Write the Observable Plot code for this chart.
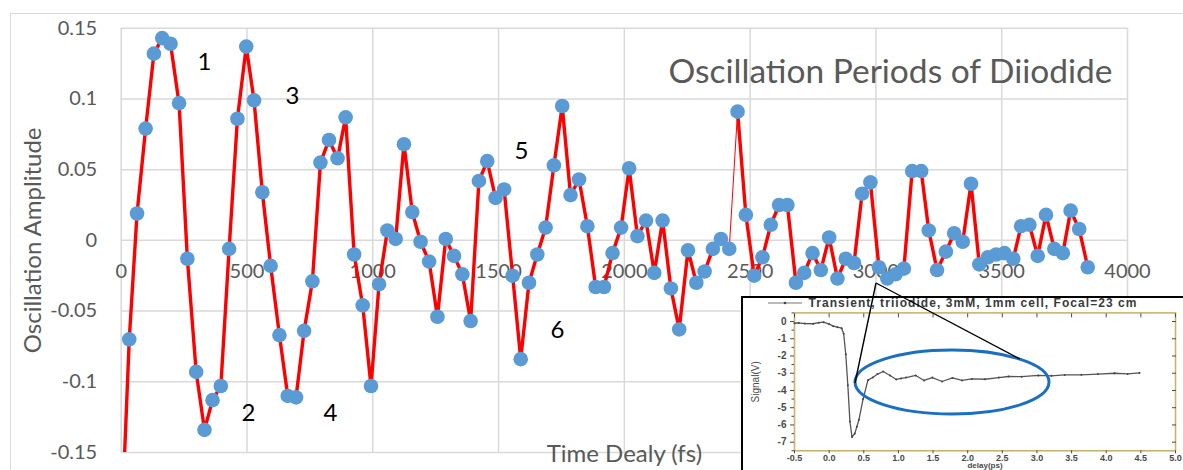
<!DOCTYPE html>
<html><head><meta charset="utf-8">
<script src="https://cdn.jsdelivr.net/npm/d3@7"></script>
<script src="https://cdn.jsdelivr.net/npm/@observablehq/plot@0.6"></script>
<style>
html,body{margin:0;padding:0;background:#fff;overflow:hidden;width:1183px;height:470px;}
#wrap{position:relative;width:1183px;height:470px;overflow:hidden;background:#fff;}
#wrap svg{position:absolute;}
#border{position:absolute;left:10px;top:12.5px;width:1250px;height:520px;border-left:1.5px solid #d9d9d9;border-top:1.5px solid #d9d9d9;pointer-events:none;}
#insetBox{position:absolute;left:741px;top:296px;width:480px;height:220px;background:#fff;border-left:2.5px solid #000;border-top:2.5px solid #000;}
</style></head>
<body><div id="wrap"></div>
<script>
// ---- main chart data ----
const times = [0, 32, 63, 97, 130, 163, 196, 230, 263, 298,
  331, 363, 396, 429, 462, 497, 528, 561, 594, 629,
  662, 695, 727, 760, 792, 826, 860, 892, 926, 960,
  993, 1025, 1058, 1091, 1124, 1157, 1190, 1224, 1257, 1290,
  1323, 1356, 1389, 1422, 1455, 1488, 1522, 1556, 1588, 1621,
  1654, 1687, 1720, 1753, 1786, 1820, 1853, 1886, 1919, 1953,
  1987, 2019, 2052, 2086, 2119, 2152, 2185, 2218, 2253, 2286,
  2319, 2352, 2384, 2417, 2450, 2483, 2516, 2549, 2582, 2615,
  2648, 2682, 2715, 2748, 2781, 2814, 2847, 2880, 2913, 2945,
  2978, 3012, 3045, 3078, 3111, 3144, 3180, 3210, 3243, 3278,
  3311, 3345, 3378, 3411, 3445, 3478, 3511, 3546, 3577, 3610,
  3643, 3676, 3709, 3743, 3774, 3808, 3842];
const amplitude = [-0.21, -0.070, 0.019, 0.079, 0.132, 0.143, 0.139, 0.097, -0.013, -0.093,
  -0.134, -0.113, -0.103, -0.006, 0.086, 0.137, 0.099, 0.034, -0.018, -0.067,
  -0.110, -0.111, -0.064, -0.029, 0.055, 0.071, 0.058, 0.087, -0.010, -0.046,
  -0.103, -0.031, 0.007, 0.001, 0.068, 0.020, -0.001, -0.015, -0.054, 0.001,
  -0.011, -0.024, -0.057, 0.042, 0.056, 0.030, 0.036, -0.025, -0.084, -0.030,
  -0.010, 0.009, 0.053, 0.095, 0.032, 0.043, 0.010, -0.033, -0.033, -0.009,
  0.009, 0.051, 0.003, 0.014, -0.023, 0.014, -0.034, -0.063, -0.007, -0.030,
  -0.022, -0.006, 0.001, -0.006, 0.091, 0.018, -0.025, -0.012, 0.011, 0.025,
  0.025, -0.030, -0.023, -0.009, -0.021, 0.002, -0.027, -0.013, -0.016, 0.033,
  0.041, -0.019, -0.027, -0.024, -0.020, 0.049, 0.049, 0.007, -0.021, -0.008,
  0.005, -0.001, 0.040, -0.017, -0.012, -0.010, -0.009, -0.013, 0.010, 0.011,
  -0.011, 0.018, -0.006, -0.009, 0.021, 0.008, -0.019];
const thinFrom = 2417, thinTo = 2450; // segment drawn with a thin line

const xTicks = [0, 500, 1000, 1500, 2000, 2500, 3000, 3500, 4000];
const xTickLabels = ["0", "500", "1000", "1500", "2000", "2500", "3000", "3500", "4000"];
const yTicks = [-0.15, -0.1, -0.05, 0, 0.05, 0.1, 0.15];
const yTickLabels = ["-0.15", "-0.1", "-0.05", "0", "0.05", "0.1", "0.15"];

const peakLabels = ["1", "2", "3", "4", "5", "6"];
const peakLabelX = [331, 506, 681, 832, 1591, 1734];
const peakLabelY = [0.126, -0.122, 0.102, -0.122, 0.063, -0.0635];

const titleText = "Oscillation Periods of Diiodide";
const xLabelText = "Time Dealy (fs)";
const yLabelText = "Oscillation Amplitude";

// ---- inset chart data ----
const delay = [-0.5, -0.44, -0.35, -0.23, -0.15, -0.08, 0.0, 0.06, 0.12, 0.18,
  0.21, 0.24, 0.27, 0.30, 0.33, 0.37, 0.40, 0.43, 0.49, 0.56,
  0.63, 0.70, 0.78, 0.88, 0.97, 1.04, 1.11, 1.25, 1.37, 1.49,
  1.63, 1.78, 1.92, 2.06, 2.25, 2.45, 2.59, 2.78, 3.02, 3.21,
  3.40, 3.64, 3.88, 4.12, 4.31, 4.48];
const signal = [-0.1, -0.08, -0.12, -0.13, -0.07, -0.04, -0.15, -0.27, -0.33, -0.39,
  -0.71, -1.9, -3.7, -5.8, -6.7, -6.5, -6.1, -5.7, -4.5, -3.4,
  -3.25, -3.05, -2.9, -3.13, -3.36, -3.3, -3.25, -3.13, -3.42, -3.25,
  -3.48, -3.27, -3.42, -3.33, -3.35, -3.25, -3.19, -3.2, -3.13, -3.15,
  -3.1, -3.09, -3.05, -3.0, -3.04, -2.98];
const insetXTicks = [-0.5, 0.0, 0.5, 1.0, 1.5, 2.0, 2.5, 3.0, 3.5, 4.0, 4.5, 5.0];
const insetYTicks = [0, -1, -2, -3, -4, -5, -6, -7];
const insetYMinor = [0.5, -0.5, -1.5, -2.5, -3.5, -4.5, -5.5, -6.5, -7.5];
const insetLegend = "Transient, triiodide, 3mM, 1mm cell, Focal=23 cm";

// ---- build ----
const data = times.map((t, i) => ({t, a: amplitude[i]}));
const yLab = new Map(yTicks.map((d, i) => [d, yTickLabels[i]]));
const grid = {stroke: "#d9d9d9", strokeOpacity: 1, strokeWidth: 1.5};
const txt = "#595959";

const main = Plot.plot({
  width: 1183, height: 470,
  marginLeft: 120.7, marginRight: 56, marginTop: 27.7, marginBottom: 18,
  x: {domain: [0, 4000]},
  y: {domain: [-0.15, 0.15]},
  style: {fontFamily: "Lato, 'Open Sans', sans-serif", background: "transparent", overflow: "visible"},
  marks: [
    Plot.gridX(xTicks, grid),
    Plot.gridY(yTicks, grid),
    Plot.axisY(yTicks, {tickSize: 0, tickPadding: 24, fontSize: 20, fill: txt, tickFormat: d => yLab.get(d), label: null}),
    Plot.axisX(xTicks, {tickSize: 0, tickFormat: () => "", label: null}),
    Plot.text(xTicks, {x: d => d, y: 0, dy: 31, text: (d, i) => xTickLabels[i], fontSize: 20, fill: txt, lineAnchor: "middle"}),
    Plot.line(data.filter(d => d.t <= thinFrom), {x: "t", y: "a", stroke: "#ff0000", strokeWidth: 3.4, clip: true}),
    Plot.line(data.filter(d => d.t >= thinFrom && d.t <= thinTo), {x: "t", y: "a", stroke: "#ff0000", strokeWidth: 1, clip: true}),
    Plot.line(data.filter(d => d.t >= thinTo), {x: "t", y: "a", stroke: "#ff0000", strokeWidth: 3.4, clip: true}),
    Plot.dot(data, {x: "t", y: "a", r: 7.3, fill: "#5b9bd5", clip: true}),
    Plot.text(peakLabels, {x: (d, i) => peakLabelX[i], y: (d, i) => peakLabelY[i], text: d => d, fontSize: 24, fill: "#000", lineAnchor: "middle"}),
    Plot.text([titleText], {frameAnchor: "top-right", dx: -15, dy: 54.3, lineAnchor: "bottom", textAnchor: "end", fontSize: 33.5, fill: txt}),
    Plot.text([yLabelText], {frameAnchor: "left", dx: -88, rotate: -90, lineAnchor: "middle", textAnchor: "middle", fontSize: 24, fill: txt}),
    Plot.text([xLabelText], {frameAnchor: "bottom", dy: 9, lineAnchor: "bottom", fontSize: 24, fill: txt})
  ]
});
main.style.left = "0px"; main.style.top = "0px";
const wrap = document.getElementById("wrap");
wrap.appendChild(main);

const border = document.createElement("div");
border.id = "border";
wrap.appendChild(border);

const box = document.createElement("div");
box.id = "insetBox";
wrap.appendChild(box);

const insetData = delay.map((x, i) => ({x, y: signal[i]}));
const sig = d => (d < 0 ? "-" : "") + Math.abs(d);
const ink = "#4a4a4a";
const inset = Plot.plot({
  width: 441, height: 180,
  marginLeft: 52, marginRight: 8, marginTop: 15.4, marginBottom: 26.7,
  x: {domain: [-0.5, 5.0]},
  y: {domain: [-7.5, 0.5]},
  style: {fontFamily: "'Liberation Sans', Arial, sans-serif", background: "transparent", overflow: "visible"},
  marks: [
    Plot.frame({stroke: "#c9b46e", strokeWidth: 1.6}),
    Plot.axisY(insetYTicks, {tickSize: 4, tickPadding: 4, fontSize: 10, fontWeight: "bold", fill: ink, stroke: ink, tickFormat: sig, label: null}),
    Plot.axisY(insetYMinor, {tickSize: 2.5, tickFormat: () => "", stroke: ink, label: null}),
    Plot.axisY(insetYTicks, {anchor: "right", tickSize: -4, tickFormat: () => "", stroke: ink, label: null}),
    Plot.axisX(insetXTicks, {tickSize: 3, tickPadding: 0.5, fontSize: 9, fontWeight: "bold", fill: ink, stroke: ink,
      tickFormat: d => (d < 0 ? "-" : "") + Math.abs(d).toFixed(1), label: null}),
    Plot.axisX(insetXTicks, {anchor: "top", tickSize: -4, tickFormat: () => "", stroke: ink, label: null}),
    Plot.text(["Signal(V)"], {frameAnchor: "left", dx: -39, rotate: -90, lineAnchor: "middle", textAnchor: "middle", fontSize: 10, fill: ink}),
    Plot.text(["delay(ps)"], {frameAnchor: "bottom", dy: 17.2, lineAnchor: "bottom", fontSize: 8, fontWeight: "bold", fill: ink}),
    Plot.text([insetLegend], {frameAnchor: "top-left", dx: 14, dy: -9.4, lineAnchor: "middle", textAnchor: "start", fontSize: 12, fontWeight: "bold", fill: "#3a3a3a"}),
    Plot.line(insetData, {x: "x", y: "y", stroke: "#555", strokeWidth: 1.3}),
    Plot.dot(insetData, {x: "x", y: "y", r: 1, fill: "#444"})
  ]
});
inset.style.left = "742px"; inset.style.top = "297px";
wrap.appendChild(inset);
// stretch the legend text to the width seen in the reference
inset.querySelectorAll("text").forEach(t => {
  if (t.textContent === insetLegend) {
    t.setAttribute("textLength", 328);
    t.setAttribute("lengthAdjust", "spacing");
  }
});

// annotation overlay: callout lines, ellipse, legend swatch
const ns = "http://www.w3.org/2000/svg";
const ov = document.createElementNS(ns, "svg");
ov.setAttribute("width", 1183); ov.setAttribute("height", 470);
ov.style.left = "0px"; ov.style.top = "0px"; ov.style.pointerEvents = "none";
ov.innerHTML = `
  <line x1="768" y1="303" x2="802" y2="303" stroke="#777" stroke-width="1.2"/>
  <circle cx="785" cy="303" r="1.3" fill="#444"/>
  <ellipse cx="952" cy="382" rx="97" ry="32" fill="none" stroke="#1b6fc2" stroke-width="3"/>
  <line x1="876" y1="283" x2="855" y2="383" stroke="#000" stroke-width="1.4"/>
  <line x1="876" y1="283" x2="1020" y2="359" stroke="#000" stroke-width="1.4"/>`;
wrap.appendChild(ov);
</script>
</body></html>
